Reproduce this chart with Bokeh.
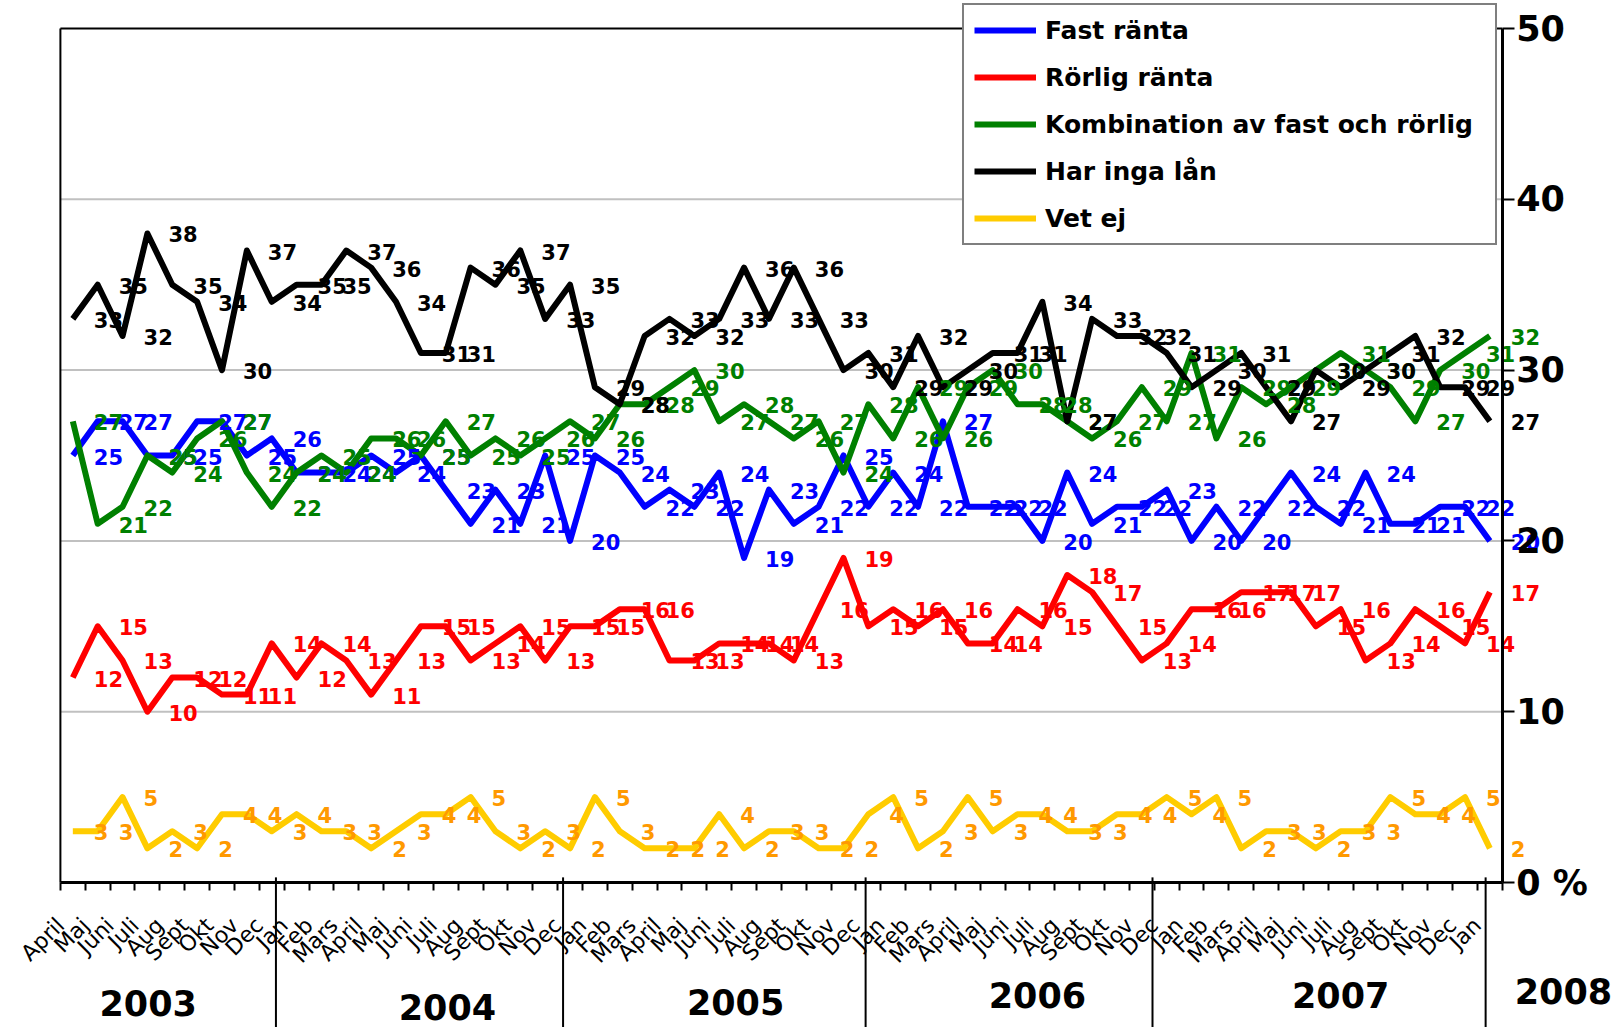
from math import pi
from bokeh.plotting import figure
from bokeh.models import (Range1d, LinearAxis, FixedTicker, Legend, LegendItem,
                          ColumnDataSource)
from bokeh.core.properties import value
from bokeh.embed import file_html
from bokeh.resources import INLINE

# ---------------- data ----------------
month_labels = [
    "April", "Maj", "Juni", "Juli", "Aug", "Sept", "Okt", "Nov", "Dec",
    "Jan", "Feb", "Mars", "April", "Maj", "Juni", "Juli", "Aug", "Sept", "Okt", "Nov", "Dec",
    "Jan", "Feb", "Mars", "April", "Maj", "Juni", "Juli", "Aug", "Sept", "Okt", "Nov", "Dec",
    "Jan", "Feb", "Mars", "April", "Maj", "Juni", "Juli", "Aug", "Sept", "Okt", "Nov", "Dec",
    "Jan", "Feb", "Mars", "April", "Maj", "Juni", "Juli", "Aug", "Sept", "Okt", "Nov", "Dec",
    "Jan",
]
year_labels = ["2003", "2004", "2005", "2006", "2007", "2008"]

fast_ranta = [25, 27, 27, 25, 25, 27, 27, 25, 26, 24,
              24, 24, 25, 24, 25, 23, 21, 23, 21, 25,
              20, 25, 24, 22, 23, 22, 24, 19, 23, 21,
              22, 25, 22, 24, 22, 27, 22, 22, 22, 20,
              24, 21, 22, 22, 23, 20, 22, 20, 22, 24,
              22, 21, 24, 21, 21, 22, 22, 20]
rorlig_ranta = [12, 15, 13, 10, 12, 12, 11, 11, 14, 12,
                14, 13, 11, 13, 15, 15, 13, 14, 15, 13,
                15, 15, 16, 16, 13, 13, 14, 14, 14, 13,
                16, 19, 15, 16, 15, 16, 14, 14, 16, 15,
                18, 17, 15, 13, 14, 16, 16, 17, 17, 17,
                15, 16, 13, 14, 16, 15, 14, 17]
kombination = [27, 21, 22, 25, 24, 26, 27, 24, 22, 24,
               25, 24, 26, 26, 25, 27, 25, 26, 25, 26,
               27, 26, 28, 28, 29, 30, 27, 28, 27, 26,
               27, 24, 28, 26, 29, 26, 29, 30, 28, 28,
               27, 26, 27, 29, 27, 31, 26, 29, 28, 29,
               30, 31, 30, 29, 27, 30, 31, 32]
har_inga_lan = [33, 35, 32, 38, 35, 34, 30, 37, 34, 35,
                35, 37, 36, 34, 31, 31, 36, 35, 37, 33,
                35, 29, 28, 32, 33, 32, 33, 36, 33, 36,
                33, 30, 31, 29, 32, 29, 30, 31, 31, 34,
                27, 33, 32, 32, 31, 29, 30, 31, 29, 27,
                30, 29, 30, 31, 32, 29, 29, 27]
vet_ej = [3, 3, 5, 2, 3, 2, 4, 4, 3, 4,
          3, 3, 2, 3, 4, 4, 5, 3, 2, 3,
          2, 5, 3, 2, 2, 2, 4, 2, 3, 3,
          2, 2, 4, 5, 2, 3, 5, 3, 4, 4,
          3, 3, 4, 4, 5, 4, 5, 2, 3, 3,
          2, 3, 3, 5, 4, 4, 5, 2]

series_names = ["Fast ränta", "Rörlig ränta", "Kombination av fast och rörlig",
                "Har inga lån", "Vet ej"]
y_ticks = [0, 10, 20, 30, 40, 50]
grid_values = [10, 20, 30, 40]

# ---------------- styling / layout ----------------
FONT = "DejaVu Sans"
line_colors = ["#0000FF", "#FF0000", "#008000", "#000000", "#FFCC00"]
label_colors = ["#0000FF", "#FF0000", "#008000", "#000000", "#FF9900"]

W, H = 1612, 1027
X0_PX, PX_PER_CAT = 59.9, 24.86      # pixel of category boundary 0, width of a category
Y0_PX, PX_PER_UNIT = 882.0, 17.08    # pixel of value 0, pixels per percent

n = len(month_labels)
y_max = y_ticks[-1]
y_bottom = (Y0_PX - H) / PX_PER_UNIT
xs = [i + 0.5 for i in range(n)]          # category centres

p = figure(width=W, height=H,
           x_range=Range1d(-X0_PX / PX_PER_CAT, (W - X0_PX) / PX_PER_CAT),
           y_range=Range1d(y_bottom, Y0_PX / PX_PER_UNIT),
           x_axis_type=None, y_axis_type=None, toolbar_location=None,
           output_backend="svg", title=None,
           min_border_left=0, min_border_right=0,
           min_border_top=0, min_border_bottom=0)
p.outline_line_color = None
p.background_fill_color = "white"
p.border_fill_color = "white"

# horizontal grid lines, only inside the plot area
p.segment(x0=[0] * len(grid_values), y0=grid_values,
          x1=[n] * len(grid_values), y1=grid_values,
          line_color="#C0C0C0", line_width=2)

# plot-area frame (left and top border)
p.segment(x0=[0, 0], y0=[0, y_max], x1=[0, n], y1=[y_max, y_max],
          line_color="black", line_width=2)

# year separators below the x axis
separators = [8.67, 20.22, 32.39, 43.93, 57.33]
p.segment(x0=separators, y0=[0.3] * len(separators),
          x1=separators, y1=[y_bottom] * len(separators),
          line_color="black", line_width=2)

# x axis: month labels at category boundaries
xaxis = LinearAxis(ticker=FixedTicker(ticks=list(range(n + 1))), fixed_location=0,
                   bounds=(0, n))
overrides = {i: month_labels[i] for i in range(n)}
overrides[n] = ""
xaxis.major_label_overrides = overrides
xaxis.major_label_orientation = pi / 4
xaxis.major_label_text_font = FONT
xaxis.major_label_text_font_size = "22px"
xaxis.major_label_text_color = "black"
xaxis.major_label_standoff = 31
xaxis.axis_line_color = "black"
xaxis.axis_line_width = 3
xaxis.major_tick_line_color = "black"
xaxis.major_tick_line_width = 2
xaxis.major_tick_out = 8
xaxis.major_tick_in = 0
xaxis.minor_tick_line_color = None
p.add_layout(xaxis, "below")

# right y axis
yaxis = LinearAxis(ticker=FixedTicker(ticks=y_ticks), bounds=(0, y_max), fixed_location=n)
yaxis.major_label_overrides = {0: "0 %"}
yaxis.major_label_text_font = FONT
yaxis.major_label_text_font_style = "bold"
yaxis.major_label_text_font_size = "35px"
yaxis.major_label_text_color = "black"
yaxis.major_label_standoff = 2
yaxis.axis_line_color = "black"
yaxis.axis_line_width = 3
yaxis.major_tick_line_color = "black"
yaxis.major_tick_line_width = 2
yaxis.major_tick_out = 12
yaxis.major_tick_in = 0
yaxis.minor_tick_line_color = None
p.add_layout(yaxis, "right")

# lines
all_series = [fast_ranta, rorlig_ranta, kombination, har_inga_lan, vet_ej]
renderers = []
for vals, col in zip(all_series, line_colors):
    src = ColumnDataSource(dict(x=xs, y=vals))
    r = p.line("x", "y", source=src, line_color=col, line_width=6, line_join="round")
    renderers.append(r)

# data labels
for vals, col in zip(all_series, label_colors):
    src = ColumnDataSource(dict(x=xs, y=vals, t=[str(v) for v in vals]))
    p.text("x", "y", text="t", source=src, text_font=value(FONT),
           text_font_style="bold", text_font_size="21px", text_color=col,
           text_align="left", text_baseline="middle", x_offset=21, y_offset=1)

# legend
legend = Legend(items=[LegendItem(label=nm, renderers=[r]) for nm, r in zip(series_names, renderers)],
                location=(962, H - 245))
legend.border_line_color = "black"
legend.border_line_width = 2
legend.background_fill_color = "white"
legend.background_fill_alpha = 1
legend.label_text_font = FONT
legend.label_text_font_style = "bold"
legend.label_text_font_size = "25px"
legend.label_text_color = "black"
legend.glyph_width = 62
legend.glyph_height = 30
legend.label_height = 30
legend.label_width = 440
legend.spacing = 17
legend.padding = 10
legend.margin = 0
legend.label_standoff = 9
p.add_layout(legend)

# year labels under the month labels
year_x = [3.53, 15.57, 27.16, 39.3, 51.5, 60.46]
year_y = [-7.08, -7.26, -6.97, -6.56, -6.56, -6.38]
ysrc = ColumnDataSource(dict(x=year_x, y=year_y, t=year_labels))
p.text("x", "y", text="t", source=ysrc, text_font=value(FONT), text_font_style="bold",
       text_font_size="35px", text_align="center", text_baseline="middle",
       text_color="black")

open("out.html", "w").write(file_html(p, INLINE))
